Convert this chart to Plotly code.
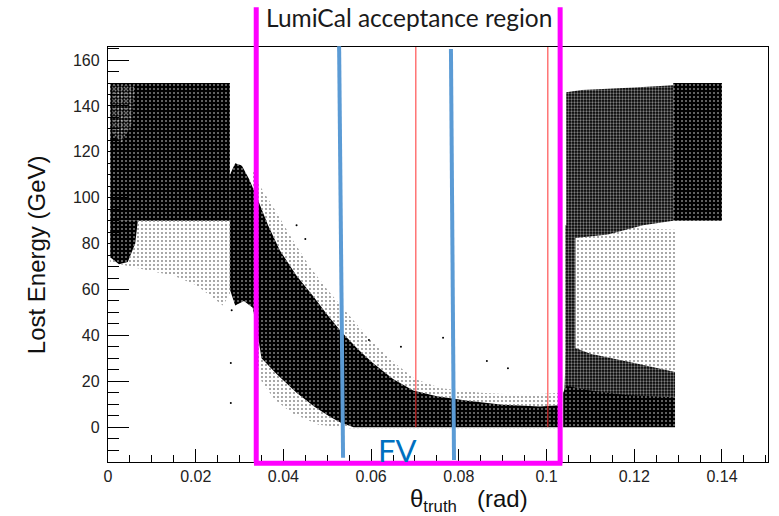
import plotly.graph_objects as go

# ---------------- data ----------------
# Outlines of the point-density regions, theta_truth (rad) vs lost energy (GeV)
left_block_x = [0.0005, 0.0278, 0.0278, 0.0005]
left_block_y = [150, 150, 90, 90]

left_light_x = [0.0010, 0.0060, 0.0055, 0.0030, 0.0010]
left_light_y = [149, 149, 132, 124, 128]

left_edge_x = [0.0005, 0.0068, 0.0062, 0.0045, 0.0025, 0.0005]
left_edge_y = [90, 90, 80, 72, 71, 74]

left_sparse_x = [0.0005, 0.0278, 0.0278, 0.0262, 0.0235, 0.0200, 0.0150, 0.0100, 0.0050, 0.0005]
left_sparse_y = [90, 90, 58, 53, 57, 62, 66, 68, 70, 72]

band_fringe_x = [0.0330, 0.0350, 0.0380, 0.0420, 0.0460, 0.0500, 0.0540, 0.0580, 0.0620, 0.0660,
                 0.0700, 0.0760, 0.0850, 0.0950, 0.1031, 0.1031, 0.0550, 0.0480, 0.0420, 0.0380,
                 0.0350, 0.0340]
band_fringe_y = [112, 104, 95, 82, 70, 60, 51, 42, 34, 27,
                 21, 17, 15, 14, 15, -0.5, -0.5, 1, 6, 12,
                 20, 28]

band_x = [0.0278, 0.0290, 0.0305, 0.0322, 0.0342, 0.0365, 0.0392, 0.0430, 0.0468, 0.0500,
          0.0530, 0.0570, 0.0604, 0.0650, 0.0696, 0.0750, 0.0820, 0.0900, 0.0985, 0.1031,
          0.1031, 0.0560, 0.0530, 0.0506, 0.0470, 0.0430, 0.0385, 0.0350, 0.0340, 0.0330,
          0.0310, 0.0290, 0.0278]
band_y = [110, 115, 114, 108, 99, 88, 77, 66, 57, 49,
          42, 34, 28, 21, 16, 13.5, 11.5, 9.8, 9, 9.5,
          0, 0, 2, 4.5, 9, 15, 23, 30, 42, 52,
          55, 53, 60]

right_sparse_x = [0.1043, 0.1293, 0.1293, 0.1043]
right_sparse_y = [28, 22, 86, 88]

right_edge_x = [0.1043, 0.1066, 0.1066, 0.1043]
right_edge_y = [15, 15, 88, 88]

right_mid_x = [0.1040, 0.1293, 0.1293, 0.1200, 0.1100, 0.1045]
right_mid_y = [13, 13, 24, 28, 32, 36]

right_bottom_x = [0.1038, 0.1293, 0.1293, 0.1180, 0.1100, 0.1045, 0.1038]
right_bottom_y = [0, 0, 13, 14, 16, 18, 15]

right_upper_x = [0.1045, 0.1080, 0.1200, 0.1289, 0.1289, 0.1220, 0.1140, 0.1045]
right_upper_y = [146, 147, 148, 149, 90, 88, 84, 82]

right_block_x = [0.1289, 0.1400, 0.1400, 0.1289]
right_block_y = [150, 150, 90, 90]

# a few isolated points
stray_x = [0.0280, 0.0280, 0.0282, 0.0450, 0.0668, 0.0764, 0.0864, 0.0912, 0.0595, 0.0430]
stray_y = [10.5, 28, 51, 82, 35, 39, 28.8, 25.7, 38, 88]

# tick values
x_ticks = [0, 0.02, 0.04, 0.06, 0.08, 0.1, 0.12, 0.14]
x_tick_text = ["0", "0.02", "0.04", "0.06", "0.08", "0.1", "0.12", "0.14"]
y_ticks = [0, 20, 40, 60, 80, 100, 120, 140, 160]

# overlay markers (theta positions)
acceptance_lo, acceptance_hi = 0.0338, 0.1031
red_lines = [0.0702, 0.1003]
blue_left = (0.0527, 0.0536)
blue_right = (0.0782, 0.0789)

# ---------------- styles ----------------
dense = dict(fillcolor="black", fillpattern=dict(shape=".", bgcolor="black", fgcolor="white", size=4, solidity=0.2))
medium = dict(fillcolor="black", fillpattern=dict(shape=".", bgcolor="black", fgcolor="white", size=3, solidity=0.45))
sparse = dict(fillcolor="rgba(0,0,0,0)", fillpattern=dict(shape=".", bgcolor="rgba(0,0,0,0)", fgcolor="black", size=4, solidity=0.16))
lighter = dict(fillcolor="rgba(0,0,0,0)", fillpattern=dict(shape=".", bgcolor="rgba(0,0,0,0)", fgcolor="white", size=3, solidity=0.3))

fig = go.Figure()

def region(xs, ys, style):
    fig.add_trace(go.Scatter(x=xs, y=ys, mode="none", fill="toself", hoverinfo="skip",
                             showlegend=False, **style))

region(left_sparse_x, left_sparse_y, sparse)
region(left_block_x, left_block_y, dense)
region(left_light_x, left_light_y, lighter)
region(left_edge_x, left_edge_y, dense)
region(band_fringe_x, band_fringe_y, sparse)
region(band_x, band_y, dense)
region(right_sparse_x, right_sparse_y, sparse)
region(right_edge_x, right_edge_y, medium)
region(right_mid_x, right_mid_y, medium)
region(right_bottom_x, right_bottom_y, dense)
region(right_upper_x, right_upper_y, medium)
region(right_block_x, right_block_y, dense)

fig.add_trace(go.Scatter(x=stray_x, y=stray_y, mode="markers", marker=dict(color="black", size=2),
                         hoverinfo="skip", showlegend=False))

shapes = []
# red thin lines
for xr in red_lines:
    shapes.append(dict(type="line", xref="x", yref="y", x0=xr, x1=xr, y0=0, y1=165.7,
                       line=dict(color="#ff3030", width=1)))
# blue slanted lines
for (xa, xb), (ya, yb) in [(blue_left, (1.002, 0.010)), (blue_right, (0.995, 0.005))]:
    shapes.append(dict(type="line", xref="x", yref="paper", x0=xa, x1=xb, y0=ya, y1=yb,
                       line=dict(color="#5b9bd5", width=4)))
# magenta acceptance box
for xm in (acceptance_lo, acceptance_hi):
    shapes.append(dict(type="line", xref="x", yref="paper", x0=xm, x1=xm, y0=1.096, y1=-0.003,
                       line=dict(color="#ff00ff", width=5)))
shapes.append(dict(type="line", xref="x", yref="paper", x0=acceptance_lo - 0.0005, x1=acceptance_hi + 0.0005,
                   y0=-0.003, y1=-0.003, line=dict(color="#ff00ff", width=5)))

annotations = [
    dict(text="LumiCal acceptance region", xref="paper", yref="paper", x=0.456, y=1.072,
         showarrow=False, font=dict(family="Lato", size=24.5, color="#1a1a1a"), xanchor="center", yanchor="middle"),
    dict(text="FV", xref="paper", yref="paper", x=0.439, y=0.030, showarrow=False,
         font=dict(family="Lato", size=31, color="#0070c0"), xanchor="center", yanchor="middle"),
    dict(text="Lost Energy (GeV)", xref="paper", yref="paper", x=-0.108, y=0.5, textangle=-90,
         showarrow=False, font=dict(family="Liberation Sans", size=24, color="#111"),
         xanchor="center", yanchor="middle"),
    dict(text="θ<sub>truth</sub>   (rad)", xref="paper", yref="paper", x=0.455, y=-0.050,
         showarrow=False, font=dict(family="Liberation Sans", size=24, color="#111"),
         xanchor="left", yanchor="top"),
]

fig.update_layout(
    width=779, height=516,
    margin=dict(l=108, r=11, t=47, b=54),
    paper_bgcolor="white", plot_bgcolor="white",
    shapes=shapes, annotations=annotations,
    font=dict(family="Liberation Sans", size=16, color="#222"),
)
fig.update_xaxes(range=[0, 0.1505], showgrid=False, zeroline=False, showline=True, linecolor="black",
                 linewidth=1.3, mirror=True, ticks="inside", ticklen=13, tickwidth=1.3, tickcolor="black",
                 tickvals=x_ticks, ticktext=x_tick_text,
                 minor=dict(ticks="inside", ticklen=7, tickwidth=1.3, tickcolor="black", dtick=0.005, tick0=0))
fig.update_yaxes(range=[-15.2, 165.7], showgrid=False, zeroline=False, showline=True, linecolor="black",
                 linewidth=1.3, mirror=True, ticks="inside", ticklen=21, tickwidth=1.3, tickcolor="black",
                 tickvals=y_ticks, ticklabelstandoff=4,
                 minor=dict(ticks="inside", ticklen=11, tickwidth=1.3, tickcolor="black", dtick=5, tick0=0))

fig.write_html("out.html")
